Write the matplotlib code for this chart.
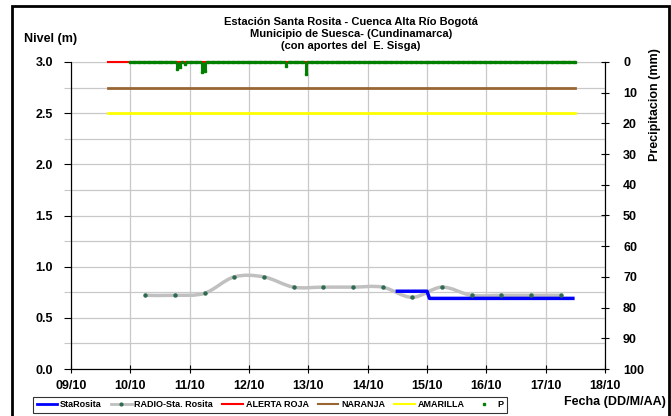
import numpy as np
import matplotlib
matplotlib.use("Agg")
import matplotlib.pyplot as plt
import matplotlib.dates as mdates
from matplotlib.path import Path
from matplotlib.patches import PathPatch, Rectangle
from matplotlib.lines import Line2D
import datetime

plt.rcParams['font.family'] = ['Liberation Sans', 'DejaVu Sans']
plt.rcParams['font.weight'] = 'bold'

# --- data ---
radio_times = ["2021-10-10 06:00", "2021-10-10 18:00", "2021-10-11 06:00", "2021-10-11 18:00",
               "2021-10-12 06:00", "2021-10-12 18:00", "2021-10-13 06:00", "2021-10-13 18:00",
               "2021-10-14 06:00", "2021-10-14 18:00", "2021-10-15 06:00", "2021-10-15 18:00",
               "2021-10-16 06:00", "2021-10-16 18:00", "2021-10-17 06:00"]
radio_level = [0.72, 0.72, 0.74, 0.90, 0.90, 0.80, 0.80, 0.80, 0.80, 0.70, 0.80, 0.72, 0.72, 0.72, 0.72]

sta_times = ["2021-10-14 12:00", "2021-10-15 00:00", "2021-10-15 01:00", "2021-10-17 11:00"]
sta_level = [0.76, 0.76, 0.69, 0.69]

threshold_start = "2021-10-09 15:00"
threshold_end = "2021-10-17 12:00"
alerta_roja = 3.0
naranja = 2.75
amarilla = 2.5

# hourly precipitation (mm) from 10/10 00:00 to 17/10 12:00, non-zero hours listed
p_start = "2021-10-10 00:00"
p_hours = 181
p_events = {19: 2.4, 20: 1.6, 22: 0.6, 29: 3.2, 30: 3.0, 63: 1.2, 71: 3.9}

day_ticks = ["2021-10-%02d" % d for d in range(9, 19)]


def to_num(s):
    return mdates.date2num(datetime.datetime.strptime(s, "%Y-%m-%d %H:%M"))


def smooth_path(xs, ys):
    # Excel style smoothed line: cubic bezier through the points
    verts = [(xs[0], ys[0])]
    codes = [Path.MOVETO]
    n = len(xs)
    for i in range(n - 1):
        x0, y0 = (xs[i - 1], ys[i - 1]) if i > 0 else (xs[i], ys[i])
        x1, y1 = xs[i], ys[i]
        x2, y2 = xs[i + 1], ys[i + 1]
        x3, y3 = (xs[i + 2], ys[i + 2]) if i + 2 < n else (x2, y2)
        c1 = (x1 + (x2 - x0) / 6, y1 + (y2 - y0) / 6)
        c2 = (x2 - (x3 - x1) / 6, y2 - (y3 - y1) / 6)
        verts += [c1, c2, (x2, y2)]
        codes += [Path.CURVE4] * 3
    return Path(verts, codes)


rx = [to_num(t) for t in radio_times]
sx = [to_num(t) for t in sta_times]
p_t0 = to_num(p_start)
p_x = p_t0 + np.arange(p_hours) / 24.0
p_val = np.zeros(p_hours)
for h, v in p_events.items():
    p_val[h] = v

fig = plt.figure(figsize=(6.71, 4.16), dpi=100)
ax = fig.add_axes([71 / 671, 1 - 369 / 416, (605 - 71) / 671, (369 - 62) / 416])
ax2 = ax.twinx()

t0, t1 = to_num(threshold_start), to_num(threshold_end)
ax.plot([t0, t1], [alerta_roja] * 2, color='#ff0000', lw=1.5, zorder=6, clip_on=False)
ax.plot([t0, t1], [naranja] * 2, color='#996633', lw=2, zorder=3)
ax.plot([t0, t1], [amarilla] * 2, color='#ffff00', lw=2, zorder=3)

ax.add_patch(PathPatch(smooth_path(rx, radio_level), fill=False, edgecolor='#c0c0c0', lw=2.5, zorder=4))
ax.plot(rx, radio_level, ls='none', marker='o', ms=2.2, color='#2e6b50', zorder=5)
ax.plot(sx, sta_level, color='#0000ff', lw=2.5, zorder=4, solid_joinstyle='round')

nz = p_val > 0
ax2.vlines(p_x[nz], 0, p_val[nz], color='#008000', lw=2.2, zorder=5)
ax2.plot(p_x, p_val, ls='none', marker='s', ms=1.8, color='#008000', zorder=6, clip_on=False)

days = [mdates.date2num(datetime.datetime.strptime(d, "%Y-%m-%d")) for d in day_ticks]
ax.set_xlim(days[0], days[-1])
ax.set_xticks(days)
ax.xaxis.set_major_formatter(mdates.DateFormatter('%d/%m'))
ax.set_ylim(0, 3.0)
ax.set_yticks(np.arange(0, 3.01, 0.5))
ax.set_yticks(np.arange(0.25, 3.0, 0.5), minor=True)
ax.yaxis.set_major_formatter(matplotlib.ticker.FormatStrFormatter('%.1f'))
ax.grid(True, which='both', color='#c8c8c8', lw=0.9)
ax.set_axisbelow(True)
ax.tick_params(axis='y', which='major', direction='out', length=5, width=0.8, pad=8, labelsize=9)
ax.tick_params(axis='y', which='minor', direction='out', length=5, width=0.8, color='#c8c8c8')
ax.tick_params(axis='x', direction='inout', length=6, width=0.8, pad=5, labelsize=9)

ax2.set_ylim(100, 0)
ax2.set_yticks(np.arange(0, 101, 10))
ax2.tick_params(axis='y', direction='inout', length=6, width=0.8, pad=10, labelsize=9)
ax.spines['top'].set_color('#c8c8c8')
ax2.spines['top'].set_visible(False)
for a in (ax, ax2):
    a.spines['left'].set_linewidth(0.8)
    a.spines['right'].set_linewidth(0.8)
    a.spines['bottom'].set_linewidth(0.8)

fig.text(351 / 671, 1 - 34 / 416,
         "Estación Santa Rosita - Cuenca Alta Río Bogotá\nMunicipio de Suesca- (Cundinamarca)\n(con aportes del  E. Sisga)",
         ha='center', va='center', fontsize=8, fontweight='bold', linespacing=1.2)
fig.text(51 / 671, 1 - 39 / 416, "Nivel (m)", ha='center', va='center', fontsize=9, fontweight='bold')
fig.text(655 / 671, 1 - 105 / 416, "Precipitacion (mm)", ha='center', va='center', rotation=90,
         fontsize=9, fontweight='bold')
fig.text(666 / 671, 1 - 402 / 416, "Fecha (DD/M/AA)", ha='right', va='center', fontsize=9, fontweight='bold')

handles = [Line2D([], [], color='#0000ff', lw=2),
           Line2D([], [], color='#c0c0c0', lw=2, marker='o', ms=2, mfc='#2e6b50', mec='#2e6b50'),
           Line2D([], [], color='#ff0000', lw=1.5),
           Line2D([], [], color='#996633', lw=1.5),
           Line2D([], [], color='#ffff00', lw=1.5),
           Line2D([], [], ls='none', marker='s', ms=2, color='#008000')]
labels = ["StaRosita", "RADIO-Sta. Rosita", "ALERTA ROJA", "NARANJA", "AMARILLA", "P"]
leg = fig.legend(handles, labels, loc='lower left', bbox_to_anchor=(33 / 671, 3 / 416), ncol=6,
                 fontsize=6.5, frameon=True, fancybox=False, edgecolor='black', borderpad=0.4,
                 handlelength=2.3, handletextpad=0.3, columnspacing=1.0, borderaxespad=0)
leg.get_frame().set_linewidth(0.8)

fig.patches.append(Rectangle((12 / 671, -0.02), (669 - 12) / 671, 1.02 - 6 / 416, transform=fig.transFigure,
                             fill=False, edgecolor='black', lw=2))

fig.savefig('out.png', dpi=100)
